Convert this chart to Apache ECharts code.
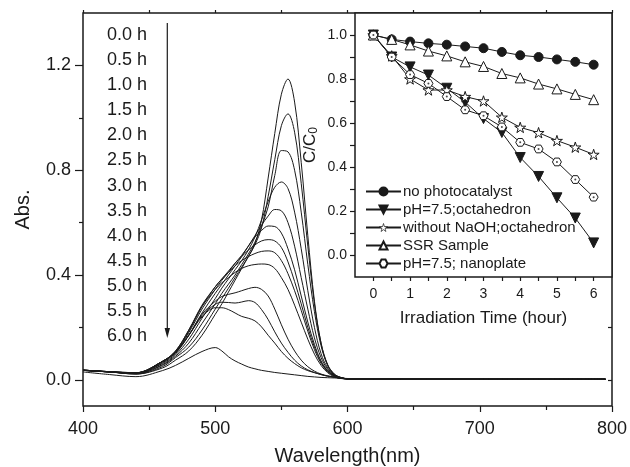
<!DOCTYPE html>
<html>
<head>
<meta charset="utf-8">
<script src="https://cdn.jsdelivr.net/npm/echarts@6/dist/echarts.min.js"></script>
<style>
  html, body { margin: 0; padding: 0; background: #fff; }
  #main { width: 630px; height: 467px; }
</style>
</head>
<body>
<div id="main"></div>
<script>
// wavelength grid (nm) for the absorption spectra
const wavelengths = [400, 420, 440, 460, 470, 480, 490, 500, 505, 510, 515, 520, 525, 530, 535, 540, 545, 550, 555, 560, 565, 570, 575, 580, 585, 590, 595, 600, 620, 700, 795];

// one spectrum per irradiation time
const abs00 = [0.036, 0.030, 0.022, 0.045, 0.075, 0.110, 0.170, 0.250, 0.290, 0.335, 0.380, 0.425, 0.470, 0.520, 0.610, 0.770, 0.940, 1.090, 1.148, 1.060, 0.830, 0.550, 0.300, 0.140, 0.055, 0.020, 0.008, 0.004, 0.002, 0.002, 0.002];
const abs05 = [0.036, 0.030, 0.022, 0.050, 0.085, 0.125, 0.190, 0.270, 0.310, 0.350, 0.390, 0.430, 0.470, 0.515, 0.580, 0.700, 0.840, 0.970, 1.015, 0.945, 0.750, 0.510, 0.290, 0.140, 0.058, 0.022, 0.009, 0.004, 0.002, 0.003, 0.003];
const abs10 = [0.036, 0.030, 0.023, 0.055, 0.090, 0.140, 0.215, 0.290, 0.330, 0.365, 0.400, 0.440, 0.480, 0.525, 0.585, 0.660, 0.780, 0.875, 0.870, 0.800, 0.640, 0.440, 0.260, 0.130, 0.055, 0.022, 0.009, 0.004, 0.002, 0.002, 0.002];
const abs15 = [0.036, 0.030, 0.024, 0.058, 0.095, 0.155, 0.235, 0.310, 0.350, 0.385, 0.420, 0.455, 0.495, 0.545, 0.610, 0.680, 0.735, 0.755, 0.730, 0.640, 0.500, 0.340, 0.200, 0.100, 0.045, 0.018, 0.008, 0.004, 0.002, 0.002, 0.002];
const abs20 = [0.036, 0.030, 0.025, 0.062, 0.100, 0.170, 0.255, 0.330, 0.365, 0.400, 0.435, 0.470, 0.510, 0.550, 0.590, 0.625, 0.650, 0.645, 0.600, 0.510, 0.390, 0.270, 0.160, 0.085, 0.040, 0.017, 0.008, 0.004, 0.002, 0.002, 0.002];
const abs25 = [0.037, 0.030, 0.025, 0.065, 0.105, 0.180, 0.270, 0.345, 0.380, 0.410, 0.445, 0.475, 0.510, 0.545, 0.570, 0.587, 0.585, 0.560, 0.500, 0.420, 0.320, 0.220, 0.135, 0.072, 0.035, 0.016, 0.007, 0.003, 0.002, 0.002, 0.002];
const abs30 = [0.037, 0.031, 0.026, 0.068, 0.108, 0.185, 0.280, 0.355, 0.385, 0.415, 0.445, 0.470, 0.495, 0.515, 0.530, 0.535, 0.530, 0.505, 0.450, 0.375, 0.290, 0.200, 0.125, 0.068, 0.033, 0.015, 0.007, 0.003, 0.002, 0.002, 0.002];
const abs35 = [0.037, 0.031, 0.027, 0.070, 0.110, 0.190, 0.285, 0.355, 0.385, 0.410, 0.435, 0.455, 0.470, 0.482, 0.490, 0.492, 0.485, 0.455, 0.405, 0.340, 0.265, 0.185, 0.115, 0.063, 0.031, 0.014, 0.006, 0.003, 0.002, 0.002, 0.002];
const abs40 = [0.037, 0.031, 0.027, 0.070, 0.110, 0.190, 0.280, 0.345, 0.370, 0.390, 0.410, 0.425, 0.435, 0.440, 0.442, 0.440, 0.425, 0.390, 0.345, 0.285, 0.220, 0.155, 0.098, 0.055, 0.027, 0.012, 0.005, 0.003, 0.002, 0.002, 0.002];
const abs45 = [0.037, 0.031, 0.027, 0.070, 0.105, 0.170, 0.250, 0.300, 0.318, 0.326, 0.332, 0.340, 0.348, 0.353, 0.345, 0.320, 0.270, 0.210, 0.155, 0.110, 0.075, 0.050, 0.033, 0.022, 0.015, 0.010, 0.006, 0.004, 0.003, 0.002, 0.002];
const abs50 = [0.037, 0.031, 0.026, 0.070, 0.105, 0.170, 0.245, 0.288, 0.296, 0.295, 0.293, 0.297, 0.302, 0.295, 0.268, 0.230, 0.183, 0.140, 0.105, 0.075, 0.053, 0.038, 0.028, 0.020, 0.014, 0.010, 0.006, 0.004, 0.003, 0.002, 0.002];
const abs55 = [0.036, 0.030, 0.024, 0.070, 0.105, 0.170, 0.240, 0.275, 0.275, 0.268, 0.255, 0.242, 0.235, 0.225, 0.202, 0.170, 0.140, 0.108, 0.082, 0.062, 0.046, 0.035, 0.027, 0.020, 0.014, 0.010, 0.006, 0.004, 0.003, 0.003, 0.003];
const abs60 = [0.030, 0.020, 0.012, 0.035, 0.055, 0.082, 0.108, 0.123, 0.110, 0.088, 0.072, 0.060, 0.049, 0.042, 0.036, 0.032, 0.028, 0.025, 0.022, 0.019, 0.016, 0.013, 0.011, 0.009, 0.008, 0.007, 0.006, 0.005, 0.004, 0.003, 0.002];
const spectra = [abs00, abs05, abs10, abs15, abs20, abs25, abs30, abs35, abs40, abs45, abs50, abs55, abs60];
const timeLabels = ['0.0 h', '0.5 h', '1.0 h', '1.5 h', '2.0 h', '2.5 h', '3.0 h', '3.5 h', '4.0 h', '4.5 h', '5.0 h', '5.5 h', '6.0 h'];

// inset: C/C0 against irradiation time
const hours = [0, 0.5, 1, 1.5, 2, 2.5, 3, 3.5, 4, 4.5, 5, 5.5, 6];
const noCatalyst = [1.0, 0.98, 0.97, 0.962, 0.956, 0.948, 0.94, 0.923, 0.908, 0.9, 0.889, 0.878, 0.865];
const octahedron = [1.0, 0.90, 0.855, 0.818, 0.758, 0.695, 0.62, 0.557, 0.443, 0.357, 0.26, 0.168, 0.055];
const noNaOH = [1.0, 0.905, 0.80, 0.75, 0.75, 0.72, 0.70, 0.626, 0.58, 0.556, 0.52, 0.49, 0.457];
const ssrSample = [1.0, 0.98, 0.955, 0.927, 0.905, 0.878, 0.857, 0.825, 0.805, 0.777, 0.755, 0.73, 0.706];
const nanoplate = [1.0, 0.90, 0.82, 0.78, 0.72, 0.66, 0.633, 0.582, 0.512, 0.482, 0.423, 0.343, 0.263];
const insetNames = ['no photocatalyst', 'pH=7.5;octahedron', 'without NaOH;octahedron', 'SSR Sample', 'pH=7.5; nanoplate'];

// tick positions
const absLabels = [0, 0.4, 0.8, 1.2];
const absMinor = [0.2, 0.6, 1.0];
const ratioLabels = [0, 0.2, 0.4, 0.6, 0.8, 1.0];
const ratioTicks = [0, 0.1, 0.2, 0.3, 0.4, 0.5, 0.6, 0.7, 0.8, 0.9, 1.0];
const hourLabels = [0, 1, 2, 3, 4, 5, 6];
const hourTicks = [0, 0.5, 1, 1.5, 2, 2.5, 3, 3.5, 4, 4.5, 5, 5.5, 6];

const ink = '#1a1a1a';
const font = '"Liberation Sans", Arial, sans-serif';
const chart = echarts.init(document.getElementById('main'));

const star = 'path://M50,0 L61,35 L98,35 L68,57 L79,91 L50,70 L21,91 L32,57 L2,35 L39,35 Z';
const hexagon = 'path://M25,0 L75,0 L100,43 L75,86 L25,86 L0,43 Z';

const spectrumSeries = spectra.map((vals, i) => ({
    name: timeLabels[i],
    type: 'line',
    xAxisIndex: 0,
    yAxisIndex: 0,
    data: wavelengths.map((w, j) => [w, vals[j]]),
    showSymbol: false,
    smooth: 0.35,
    silent: true,
    z: 2,
    lineStyle: { color: ink, width: 1 }
}));

function insetLine(name, vals, symbol, size, filled, extra) {
    return Object.assign({
        name: name,
        type: 'line',
        xAxisIndex: 2,
        yAxisIndex: 3,
        data: hours.map((h, i) => [h, vals[i]]),
        symbol: symbol,
        symbolSize: size,
        symbolKeepAspect: true,
        z: 6,
        lineStyle: { color: ink, width: 1 },
        itemStyle: { color: filled ? ink : '#fff', borderColor: ink, borderWidth: 1 }
    }, extra || {});
}

const insetSeries = [
    insetLine(insetNames[0], noCatalyst, 'circle', 9, true),
    insetLine(insetNames[1], octahedron, 'triangle', 10, true, { symbolRotate: 180 }),
    insetLine(insetNames[2], noNaOH, star, 11, false),
    insetLine(insetNames[3], ssrSample, 'triangle', 10, false),
    insetLine(insetNames[4], nanoplate, hexagon, 9, false),
    {
        type: 'scatter', xAxisIndex: 2, yAxisIndex: 3, z: 7, silent: true,
        data: hours.map((h, i) => [h, nanoplate[i]]),
        symbol: 'circle', symbolSize: 2, itemStyle: { color: ink }
    }
];

// time list with the arrow
const graphics = timeLabels.map((t, i) => ({
    type: 'text',
    x: 107,
    y: 35 + i * 25.1,
    style: { text: t, font: '18px ' + font, fill: ink, verticalAlign: 'middle' }
}));
graphics.push({ type: 'line', shape: { x1: 167.3, y1: 23, x2: 167.3, y2: 330 }, style: { stroke: ink, lineWidth: 1.2 } });
graphics.push({ type: 'polygon', shape: { points: [[164.6, 328], [170, 328], [167.3, 338]] }, style: { fill: ink } });

const tickLine = { color: ink, width: 1.2 };
const noLine = { show: false, onZero: false };

chart.setOption({
    animation: false,
    backgroundColor: '#fff',
    textStyle: { fontFamily: font, color: ink },
    grid: [
        { left: 83, right: 18, top: 13, bottom: 61, outerBoundsMode: 'none', show: true, borderColor: ink, borderWidth: 1.5, backgroundColor: 'transparent', z: 0 },
        { left: 355, right: 18, top: 13, bottom: 190, outerBoundsMode: 'none', show: true, borderColor: ink, borderWidth: 1.5, backgroundColor: '#fff', z: 3 }
    ],
    legend: {
        data: [
            insetNames[0],
            insetNames[1],
            { name: insetNames[2], itemStyle: { borderWidth: 0.7 } },
            insetNames[3],
            insetNames[4]
        ],
        orient: 'vertical',
        left: 360,
        top: 179,
        itemWidth: 35,
        itemHeight: 10,
        itemGap: 3,
        z: 8,
        textStyle: { fontSize: 15, color: ink, fontFamily: font, padding: [0, 0, 0, -3] }
    },
    xAxis: [
        {
            gridIndex: 0, type: 'value', min: 400, max: 800, interval: 100, position: 'bottom',
            axisLine: noLine,
            axisTick: { length: 6, lineStyle: tickLine },
            minorTick: { show: true, splitNumber: 2, length: 4, lineStyle: tickLine },
            axisLabel: { fontSize: 18, color: ink, margin: 14 },
            splitLine: { show: false },
            name: 'Wavelength(nm)', nameLocation: 'middle', nameGap: 40,
            nameTextStyle: { fontSize: 20, color: ink }
        },
        {
            gridIndex: 0, type: 'value', min: 400, max: 800, interval: 50, position: 'top',
            axisLine: noLine,
            axisTick: { length: 3, lineStyle: tickLine },
            axisLabel: { show: false },
            splitLine: { show: false }
        },
        {
            gridIndex: 1, type: 'value', min: -0.5, max: 6.5, position: 'bottom', z: 4,
            axisLine: noLine,
            axisTick: { customValues: hourTicks, length: 4, lineStyle: tickLine },
            axisLabel: { customValues: hourLabels, fontSize: 14, color: ink, margin: 10 },
            splitLine: { show: false },
            name: 'Irradiation Time (hour)', nameLocation: 'middle', nameGap: 33,
            nameTextStyle: { fontSize: 17, color: ink }
        }
    ],
    yAxis: [
        {
            gridIndex: 0, type: 'value', min: -0.1, max: 1.4, position: 'left',
            axisLine: noLine,
            axisTick: { customValues: absLabels, length: 8, lineStyle: tickLine },
            axisLabel: { customValues: absLabels, fontSize: 18, color: ink, margin: 12, formatter: v => v.toFixed(1) },
            splitLine: { show: false },
            name: 'Abs.', nameLocation: 'middle', nameGap: 50,
            nameTextStyle: { fontSize: 20, color: ink }
        },
        {
            gridIndex: 0, type: 'value', min: -0.1, max: 1.4, position: 'left',
            axisLine: noLine,
            axisTick: { customValues: absMinor, length: 4, lineStyle: tickLine },
            axisLabel: { show: false },
            splitLine: { show: false }
        },
        {
            gridIndex: 0, type: 'value', min: -0.1, max: 1.4, position: 'right',
            axisLine: noLine,
            axisTick: { customValues: [0, 0.2], inside: true, length: 4, lineStyle: tickLine },
            axisLabel: { show: false },
            splitLine: { show: false }
        },
        {
            gridIndex: 1, type: 'value', min: -0.1, max: 1.1, position: 'left', z: 4,
            axisLine: noLine,
            axisTick: { customValues: ratioTicks, length: 5, lineStyle: tickLine },
            axisLabel: { customValues: ratioLabels, fontSize: 14, color: ink, margin: 8, formatter: v => v.toFixed(1) },
            splitLine: { show: false },
            name: '{a|C/C}{b|0}', nameLocation: 'middle', nameGap: 35,
            nameTextStyle: {
                color: ink,
                rich: {
                    a: { fontSize: 17, color: ink, fontFamily: font },
                    b: { fontSize: 12, color: ink, fontFamily: font, padding: [7, 0, 0, 0] }
                }
            }
        }
    ],
    graphic: graphics,
    series: spectrumSeries.concat(insetSeries)
});
</script>
</body>
</html>
